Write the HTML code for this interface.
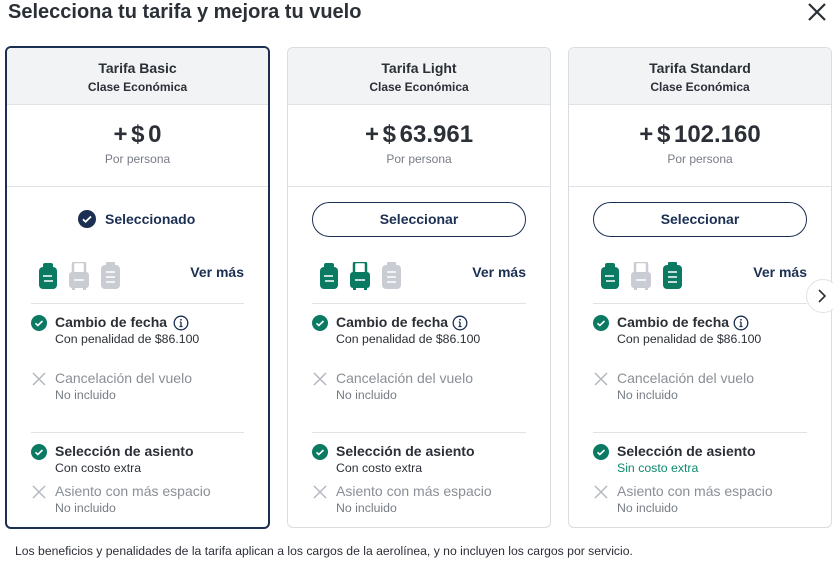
<!DOCTYPE html>
<html><head><meta charset="utf-8"><style>
*{margin:0;padding:0;box-sizing:border-box}
body{width:833px;height:569px;background:#fff;font-family:"Liberation Sans",sans-serif;color:#2b2f36;position:relative;overflow:hidden}
.t{position:absolute;white-space:nowrap}
.card{position:absolute;top:47px;width:264px;height:481px;border:1px solid #d9dce1;border-radius:6px;overflow:hidden;background:#fff}
.card.sel{border:2px solid #1b2f52;top:46px;left:5px;width:265px;height:483px}
.hd{position:absolute;left:0;top:0;right:0;height:57px;background:#f2f3f5;border-bottom:1px solid #dfe2e6}
.c{left:0;right:0;text-align:center}
.h1{top:12px;font-size:14px;font-weight:bold;color:#2b2f36}
.h2{top:32px;font-size:12px;font-weight:bold;color:#2b2f36}
.pr{top:73px;font-size:24px;font-weight:bold;color:#2b2f36;word-spacing:-3px}
.pp{top:104px;font-size:12px;color:#777c84}
.dv{position:absolute;height:1px;background:#dfe2e6}
.btn{position:absolute;left:24px;top:154px;width:214px;height:35px;border:1px solid #1b2f52;border-radius:18px;text-align:center;line-height:33px;font-size:14px;font-weight:bold;color:#1b2f52}
.vm{top:216px;right:24px;font-size:14px;font-weight:bold;color:#1b2f52}
.it{left:48px;font-size:14px}
.b{font-weight:bold;color:#2b2f36}
.g{color:#8a8f96}
.s{font-size:12.3px;color:#2b2f36}
.s.g{color:#777c84}
.ic{position:absolute;left:24px}
</style></head><body>
<div class="t" style="left:8px;top:1px;font-size:20px;font-weight:bold;color:#2b2f36">Selecciona tu tarifa y mejora tu vuelo</div>
<svg style="position:absolute;left:806px;top:1px" width="22" height="22"><path d="M3 3L19 19M19 3L3 19" stroke="#2b2f36" stroke-width="2.2"/></svg>

<div class="card sel">
<div class="hd"></div>
<div class="t c h1">Tarifa Basic</div><div class="t c h2">Clase Económica</div>
<div class="t c pr">+ $ 0</div><div class="t c pp">Por persona</div>
<div class="dv" style="left:0;right:0;top:138px"></div>
<svg style="position:absolute;left:71px;top:162px" width="18" height="18"><circle cx="9" cy="9" r="9" fill="#1b2f52"/><path d="M5 9.3l2.6 2.5L13 6.5" stroke="#fff" stroke-width="1.8" fill="none"/></svg>
<div class="t" style="left:98px;top:163px;font-size:14px;font-weight:bold;color:#1b2f52">Seleccionado</div>
<div style="position:absolute;left:30px;top:214px">
<svg width="100" height="28"><g fill="#0b7a63"><rect x="2" y="5" width="18" height="22" rx="4"/><rect x="6" y="1" width="10" height="6" rx="2"/></g><path d="M6 14h9M7 19h9" stroke="#fff" stroke-width="1.5"/>
<g fill="#c9cdd3"><rect x="32" y="10" width="20" height="16" rx="3"/><rect x="36" y="0" width="12" height="12" rx="2" fill="none" stroke="#c9cdd3" stroke-width="2.5"/><rect x="35" y="25" width="3" height="3"/><rect x="46" y="25" width="3" height="3"/></g><path d="M37 18h10" stroke="#fff" stroke-width="1.5"/>
<g fill="#c9cdd3"><rect x="64" y="3" width="19" height="24" rx="4"/><rect x="69" y="0" width="9" height="4" rx="1"/></g><path d="M69 10h9M69 15h9M69 20h9" stroke="#fff" stroke-width="1.5"/></svg></div>
<div class="t vm">Ver más</div>
<div class="dv" style="left:24px;right:24px;top:255px"></div>
<svg class="ic" style="top:267px" width="16" height="16"><circle cx="8" cy="8" r="8" fill="#0b7a63"/><path d="M4.5 8.3l2.3 2.2L11.5 6" stroke="#fff" stroke-width="1.6" fill="none"/></svg>
<div class="t it b" style="top:266px">Cambio de fecha</div>
<svg style="position:absolute;left:166px;top:267px" width="16" height="16"><circle cx="8" cy="8" r="6.8" fill="none" stroke="#1b2f52" stroke-width="1.3"/><path d="M8 7v4.5M6.5 11.5h3M6.8 7h1.2" stroke="#1b2f52" stroke-width="1.3"/><circle cx="8" cy="4.8" r="0.9" fill="#1b2f52"/></svg>
<div class="t it s" style="top:284px">Con penalidad de $86.100</div>
<svg class="ic" style="top:323px" width="16" height="16"><path d="M2 2L14 14M14 2L2 14" stroke="#b5b9bf" stroke-width="1.5"/></svg>
<div class="t it g" style="top:322px">Cancelación del vuelo</div>
<div class="t it s g" style="top:340px">No incluido</div>
<div class="dv" style="left:24px;right:24px;top:384px"></div>
<svg class="ic" style="top:396px" width="16" height="16"><circle cx="8" cy="8" r="8" fill="#0b7a63"/><path d="M4.5 8.3l2.3 2.2L11.5 6" stroke="#fff" stroke-width="1.6" fill="none"/></svg>
<div class="t it b" style="top:395px">Selección de asiento</div>
<div class="t it s" style="top:413px">Con costo extra</div>
<svg class="ic" style="top:436px" width="16" height="16"><path d="M2 2L14 14M14 2L2 14" stroke="#b5b9bf" stroke-width="1.5"/></svg>
<div class="t it g" style="top:435px">Asiento con más espacio</div>
<div class="t it s g" style="top:453px">No incluido</div>
</div>

<div class="card" style="left:287px">
<div class="hd"></div>
<div class="t c h1">Tarifa Light</div><div class="t c h2">Clase Económica</div>
<div class="t c pr">+ $ 63.961</div><div class="t c pp">Por persona</div>
<div class="dv" style="left:0;right:0;top:138px"></div>
<div class="btn">Seleccionar</div>
<div style="position:absolute;left:30px;top:214px">
<svg width="100" height="28"><g fill="#0b7a63"><rect x="2" y="5" width="18" height="22" rx="4"/><rect x="6" y="1" width="10" height="6" rx="2"/></g><path d="M6 14h9M7 19h9" stroke="#fff" stroke-width="1.5"/>
<g fill="#0b7a63"><rect x="32" y="10" width="20" height="16" rx="3"/><rect x="36" y="0" width="12" height="12" rx="2" fill="none" stroke="#0b7a63" stroke-width="2.5"/><rect x="35" y="25" width="3" height="3"/><rect x="46" y="25" width="3" height="3"/></g><path d="M37 18h10" stroke="#fff" stroke-width="1.5"/>
<g fill="#c9cdd3"><rect x="64" y="3" width="19" height="24" rx="4"/><rect x="69" y="0" width="9" height="4" rx="1"/></g><path d="M69 10h9M69 15h9M69 20h9" stroke="#fff" stroke-width="1.5"/></svg></div>
<div class="t vm">Ver más</div>
<div class="dv" style="left:24px;right:24px;top:255px"></div>
<svg class="ic" style="top:267px" width="16" height="16"><circle cx="8" cy="8" r="8" fill="#0b7a63"/><path d="M4.5 8.3l2.3 2.2L11.5 6" stroke="#fff" stroke-width="1.6" fill="none"/></svg>
<div class="t it b" style="top:266px">Cambio de fecha</div>
<svg style="position:absolute;left:164px;top:267px" width="16" height="16"><circle cx="8" cy="8" r="6.8" fill="none" stroke="#1b2f52" stroke-width="1.3"/><path d="M8 7v4.5M6.5 11.5h3M6.8 7h1.2" stroke="#1b2f52" stroke-width="1.3"/><circle cx="8" cy="4.8" r="0.9" fill="#1b2f52"/></svg>
<div class="t it s" style="top:284px">Con penalidad de $86.100</div>
<svg class="ic" style="top:323px" width="16" height="16"><path d="M2 2L14 14M14 2L2 14" stroke="#b5b9bf" stroke-width="1.5"/></svg>
<div class="t it g" style="top:322px">Cancelación del vuelo</div>
<div class="t it s g" style="top:340px">No incluido</div>
<div class="dv" style="left:24px;right:24px;top:384px"></div>
<svg class="ic" style="top:396px" width="16" height="16"><circle cx="8" cy="8" r="8" fill="#0b7a63"/><path d="M4.5 8.3l2.3 2.2L11.5 6" stroke="#fff" stroke-width="1.6" fill="none"/></svg>
<div class="t it b" style="top:395px">Selección de asiento</div>
<div class="t it s" style="top:413px">Con costo extra</div>
<svg class="ic" style="top:436px" width="16" height="16"><path d="M2 2L14 14M14 2L2 14" stroke="#b5b9bf" stroke-width="1.5"/></svg>
<div class="t it g" style="top:435px">Asiento con más espacio</div>
<div class="t it s g" style="top:453px">No incluido</div>
</div>

<div class="card" style="left:568px">
<div class="hd"></div>
<div class="t c h1">Tarifa Standard</div><div class="t c h2">Clase Económica</div>
<div class="t c pr">+ $ 102.160</div><div class="t c pp">Por persona</div>
<div class="dv" style="left:0;right:0;top:138px"></div>
<div class="btn">Seleccionar</div>
<div style="position:absolute;left:30px;top:214px">
<svg width="100" height="28"><g fill="#0b7a63"><rect x="2" y="5" width="18" height="22" rx="4"/><rect x="6" y="1" width="10" height="6" rx="2"/></g><path d="M6 14h9M7 19h9" stroke="#fff" stroke-width="1.5"/>
<g fill="#c9cdd3"><rect x="32" y="10" width="20" height="16" rx="3"/><rect x="36" y="0" width="12" height="12" rx="2" fill="none" stroke="#c9cdd3" stroke-width="2.5"/><rect x="35" y="25" width="3" height="3"/><rect x="46" y="25" width="3" height="3"/></g><path d="M37 18h10" stroke="#fff" stroke-width="1.5"/>
<g fill="#0b7a63"><rect x="64" y="3" width="19" height="24" rx="4"/><rect x="69" y="0" width="9" height="4" rx="1"/></g><path d="M69 10h9M69 15h9M69 20h9" stroke="#fff" stroke-width="1.5"/></svg></div>
<div class="t vm">Ver más</div>
<div class="dv" style="left:24px;right:24px;top:255px"></div>
<svg class="ic" style="top:267px" width="16" height="16"><circle cx="8" cy="8" r="8" fill="#0b7a63"/><path d="M4.5 8.3l2.3 2.2L11.5 6" stroke="#fff" stroke-width="1.6" fill="none"/></svg>
<div class="t it b" style="top:266px">Cambio de fecha</div>
<svg style="position:absolute;left:164px;top:267px" width="16" height="16"><circle cx="8" cy="8" r="6.8" fill="none" stroke="#1b2f52" stroke-width="1.3"/><path d="M8 7v4.5M6.5 11.5h3M6.8 7h1.2" stroke="#1b2f52" stroke-width="1.3"/><circle cx="8" cy="4.8" r="0.9" fill="#1b2f52"/></svg>
<div class="t it s" style="top:284px">Con penalidad de $86.100</div>
<svg class="ic" style="top:323px" width="16" height="16"><path d="M2 2L14 14M14 2L2 14" stroke="#b5b9bf" stroke-width="1.5"/></svg>
<div class="t it g" style="top:322px">Cancelación del vuelo</div>
<div class="t it s g" style="top:340px">No incluido</div>
<div class="dv" style="left:24px;right:24px;top:384px"></div>
<svg class="ic" style="top:396px" width="16" height="16"><circle cx="8" cy="8" r="8" fill="#0b7a63"/><path d="M4.5 8.3l2.3 2.2L11.5 6" stroke="#fff" stroke-width="1.6" fill="none"/></svg>
<div class="t it b" style="top:395px">Selección de asiento</div>
<div class="t it s" style="top:413px;color:#0b8a6e">Sin costo extra</div>
<svg class="ic" style="top:436px" width="16" height="16"><path d="M2 2L14 14M14 2L2 14" stroke="#b5b9bf" stroke-width="1.5"/></svg>
<div class="t it g" style="top:435px">Asiento con más espacio</div>
<div class="t it s g" style="top:453px">No incluido</div>
</div>

<div style="position:absolute;left:806px;top:279px;width:34px;height:34px;border-radius:50%;background:#fff;border:1px solid #dfe2e6"></div>
<svg style="position:absolute;left:815px;top:288px" width="14" height="16"><path d="M4 2l6 6-6 6" stroke="#2b2f36" stroke-width="1.6" fill="none"/></svg>

<div class="t" style="left:15px;top:544px;font-size:12.2px;color:#2b2f36">Los beneficios y penalidades de la tarifa aplican a los cargos de la aerolínea, y no incluyen los cargos por servicio.</div>
</body></html>
